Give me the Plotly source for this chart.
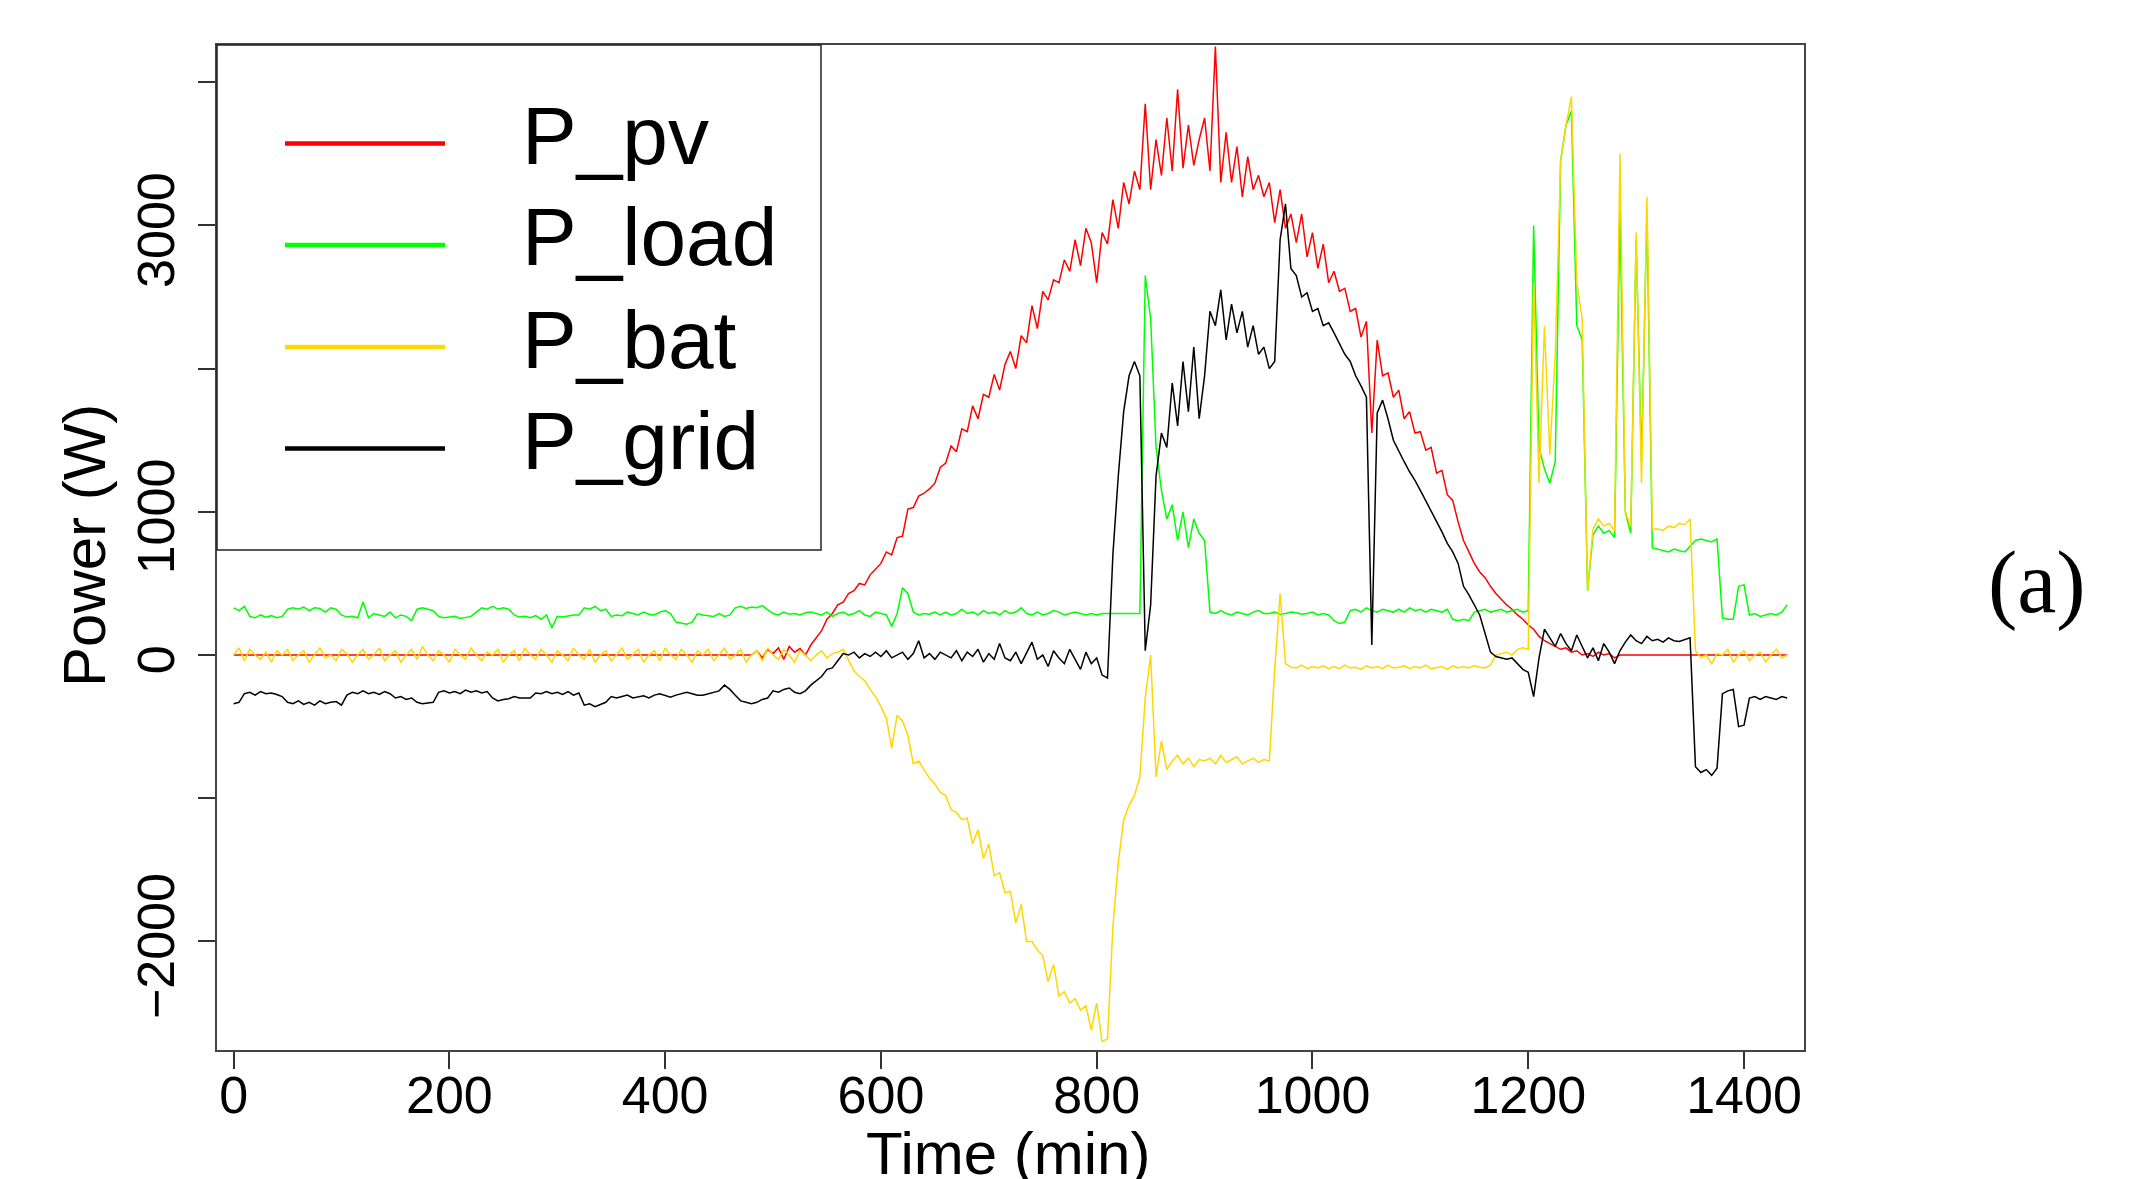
import plotly.graph_objects as go

# time axis: minutes, every 5 min
minutes = list(range(0, 1441, 5))

P_pv = [
    0, 0, 0, 0, 0, 0, 0, 0, 0, 0, 0, 0,
    0, 0, 0, 0, 0, 0, 0, 0, 0, 0, 0, 0,
    0, 0, 0, 0, 0, 0, 0, 0, 0, 0, 0, 0,
    0, 0, 0, 0, 0, 0, 0, 0, 0, 0, 0, 0,
    0, 0, 0, 0, 0, 0, 0, 0, 0, 0, 0, 0,
    0, 0, 0, 0, 0, 0, 0, 0, 0, 0, 0, 0,
    0, 0, 0, 0, 0, 0, 0, 0, 0, 0, 0, 0,
    0, 0, 0, 0, 0, 0, 0, 0, 0, 0, 0, 0,
    0, 30, -20, 40, 10, 50, -30, 60, 20, 45, 0, 70,
    120, 170, 250, 290, 350, 370, 430, 450, 500, 490, 560, 600,
    640, 720, 700, 820, 830, 1020, 1030, 1110, 1130, 1160, 1200, 1310,
    1340, 1460, 1420, 1580, 1560, 1740, 1650, 1820, 1800, 1960, 1850, 2030,
    2120, 2000, 2230, 2180, 2440, 2280, 2540, 2480, 2620, 2600, 2760, 2680,
    2900, 2720, 2980, 2880, 2600, 2950, 2870, 3180, 2980, 3300, 3150, 3380,
    3250, 3850, 3250, 3600, 3350, 3750, 3380, 3950, 3400, 3700, 3420, 3600,
    3750, 3380, 4250, 3300, 3650, 3300, 3550, 3200, 3480, 3250, 3350, 3200,
    3300, 3020, 3250, 2980, 3080, 2880, 3080, 2780, 2950, 2700, 2870, 2600,
    2680, 2540, 2560, 2400, 2420, 2220, 2330, 1550, 2200, 1950, 1970, 1800,
    1850, 1650, 1700, 1550, 1560, 1430, 1450, 1270, 1290, 1120, 1080, 930,
    800, 720, 640, 580, 540, 480, 430, 390, 350, 320, 280, 250,
    210, 180, 130, 100, 80, 60, 40, 50, 20, 30, 0, 10,
    -10, 20, 0, 10, -20, 0, 0, 0, 0, 0, 0, 0,
    0, 0, 0, 0, 0, 0, 0, 0, 0, 0, 0, 0,
    0, 0, 0, 0, 0, 0, 0, 0, 0, 0, 0, 0,
    0,
]

P_load = [
    330, 310, 340, 270, 260, 280, 265, 275, 260, 270, 320, 330,
    320, 335, 310, 330, 325, 300, 330, 320, 280, 265, 270, 260,
    370, 260, 290, 280, 270, 300, 260, 280, 270, 240, 320, 330,
    320, 310, 270, 260, 265, 270, 255, 265, 270, 300, 330, 320,
    340, 320, 330, 320, 280, 265, 270, 260, 275, 250, 280, 190,
    270, 265, 275, 280, 280, 330, 320, 340, 310, 320, 270, 280,
    275, 300, 290, 280, 300, 285, 280, 300, 310, 290, 230, 220,
    215, 230, 290, 280, 275, 270, 290, 270, 280, 330, 340, 325,
    335, 330, 345, 320, 290, 280, 300, 285, 290, 280, 295, 300,
    290, 280, 300, 270, 290, 300, 280, 290, 310, 280, 270, 300,
    290, 280, 200, 290, 470, 430, 300, 280, 290, 285, 300, 280,
    300, 280, 290, 320, 290, 300, 280, 310, 290, 300, 280, 310,
    290, 300, 330, 290, 280, 300, 280, 290, 310, 300, 280, 290,
    300, 290, 280, 290, 280, 290, 290, 285, 290, 290, 290, 290,
    290, 2650, 2350, 1450, 1150, 950, 1050, 800, 1000, 750, 950, 850,
    800, 300, 290, 310, 290, 280, 300, 290, 280, 300, 310, 290,
    290, 300, 285, 290, 300, 295, 285, 290, 300, 280, 290, 280,
    240, 220, 230, 310, 320, 300, 330, 310, 300, 320, 310, 300,
    320, 300, 330, 310, 320, 300, 320, 310, 300, 320, 250, 240,
    250, 240, 300, 310, 320, 300, 310, 320, 300, 310, 320, 300,
    310, 3000, 1450, 1300, 1200, 1350, 3450, 3700, 3800, 2300, 2200, 450,
    840, 900, 850, 870, 820, 3100, 1000, 850, 2900, 1350, 3100, 750,
    740, 730, 720, 740, 730, 720, 760, 800, 810, 800, 790, 810,
    260, 250, 250, 480, 490, 280, 290, 270, 280, 290, 280, 300,
    350,
]

P_bat = [
    0, 50, -40, 40, 0, -30, 20, -50, 30, 0, 40, -40,
    0, 30, -50, 0, 50, -20, 0, -40, 40, 10, -50, 0,
    40, -30, 0, 50, -40, 0, 30, -50, 0, 40, -30, 60,
    0, -40, 30, 0, -50, 40, 0, -30, 50, 0, -40, 20,
    0, 40, -50, 0, 30, -40, 50, 0, -30, 40, 0, -50,
    30, 0, -40, 50, 0, -30, 40, -50, 0, 30, -40, 0,
    50, -30, 0, 40, -50, 0, 30, -40, 50, 0, -30, 40,
    0, -50, 30, 0, 40, -40, 0, 50, -30, 0, 40, -50,
    0, 30, -40, 50, 0, -30, 40, 0, -50, 30, 0, -40,
    0, 30, -20, 10, 20, 40, -30, -110, -150, -180, -240, -290,
    -360, -440, -650, -420, -460, -560, -760, -740, -800, -860, -900, -960,
    -980, -1080, -1100, -1150, -1140, -1320, -1220, -1420, -1320, -1540, -1520, -1660,
    -1650, -1870, -1740, -2000, -2000, -2060, -2100, -2280, -2160, -2380, -2350, -2430,
    -2400, -2480, -2450, -2620, -2430, -2700, -2680, -1900, -1450, -1150, -1050, -980,
    -850, -300, 0, -850, -600, -800, -740, -700, -760, -720, -780, -730,
    -740, -720, -760, -700, -750, -730, -710, -760, -740, -720, -750, -730,
    -740, -100, 430, -60, -85, -90, -70, -95, -80, -90, -75, -95,
    -80, -95, -70, -90, -85, -100, -75, -90, -80, -95, -70, -90,
    -85, -75, -95, -80, -90, -70, -95, -85, -80, -100, -75, -90,
    -80, -90, -75, -85, -90, -70, 0, 10, 20, 0, 40, 50,
    40, 2600, 1200, 2300, 1400, 2100, 3450, 3700, 3900, 2600, 2350, 450,
    880, 950, 900, 920, 870, 3500, 1000, 900, 2950, 1200, 3200, 880,
    880, 870, 900, 890, 920, 910, 950, 30, -20, 0, -60, 10,
    0, 40, -50, 0, 30, -40, 0, 20, -50, 0, 40, -20,
    0,
]

P_grid = [
    -340, -330, -270, -260, -280, -255, -270, -265, -275, -290, -330, -340,
    -320, -345, -330, -350, -320, -340, -330, -325, -350, -280, -260, -270,
    -250, -270, -260, -275, -255, -270, -300, -290, -310, -300, -330, -340,
    -335, -330, -260, -250, -265, -255, -270, -245, -260, -250, -265, -255,
    -300, -320, -310, -305, -290, -300, -300, -300, -265, -270, -255, -270,
    -260, -275, -255, -280, -265, -350, -340, -360, -345, -330, -290, -300,
    -290, -280, -300, -290, -285, -300, -280, -270, -280, -295, -280, -270,
    -260, -270, -280, -280, -270, -260, -250, -210, -240, -280, -320, -330,
    -340, -330, -310, -300, -250, -260, -240, -230, -260, -270, -250, -210,
    -180, -150, -100, -90, -40, 10, 0, 20, -20, 10, -10, 20,
    -10, 30, -20, 0, 20, -30, 10, 100, -20, 10, -30, 20,
    0, -20, 30, -40, 20, -10, 40, -50, 10, -30, 80, -20,
    -40, 20, -60, 10, 90, -30, 0, -80, 30, -20, -60, 40,
    -30, -100, 20, -60, -20, -140, -160, 700, 1250, 1700, 1950, 2050,
    1950, 30, 350, 1250, 1550, 1450, 1900, 1600, 2050, 1700, 2150, 1650,
    1950, 2400, 2300, 2550, 2200, 2450, 2250, 2400, 2150, 2300, 2100, 2150,
    2000, 2050, 2900, 3150, 2700, 2650, 2500, 2530, 2400, 2420, 2300, 2320,
    2250, 2180, 2100, 2050, 1950, 1880, 1800, 70, 1690, 1780, 1650, 1500,
    1420, 1350, 1280, 1220, 1150, 1080, 1000, 930, 860, 780, 720, 640,
    480, 420, 350, 280, 150, 20, -10, -20, -30, -20, -60, -100,
    -120, -290, -20, 180, 120, 60, 150, 80, 30, 140, 60, -20,
    50, -40, 80, 20, -60, 30, 90, 140, 100, 80, 130, 100,
    110, 90, 120, 100, 95, 110, 120, -780, -820, -800, -840, -790,
    -270, -250, -240, -500, -490, -300, -290, -310, -290, -300, -310, -290,
    -300,
]

series_names = ["P_pv", "P_load", "P_bat", "P_grid"]
series_colors = ["#FF0000", "#00FF00", "#FFD700", "#000000"]
series_values = [P_pv, P_load, P_bat, P_grid]

x_ticks = [0, 200, 400, 600, 800, 1000, 1200, 1400]
y_ticks = [-2000, -1000, 0, 1000, 2000, 3000, 4000]
y_ticklabels = ["\u22122000", "", "0", "1000", "", "3000", ""]

FONT = "Liberation Sans, Arial, Helvetica, sans-serif"

fig = go.Figure()
for name, col, vals in zip(series_names, series_colors, series_values):
    fig.add_trace(go.Scatter(x=minutes, y=vals, mode="lines", name=name,
                             line=dict(color=col, width=1.5), showlegend=False))

# page offset from default body margin
OFF = 8
W, H = 2147 - OFF, 1179 - OFF
# plot area edges in page pixels
L, R, T, B = 217, 1804, 45, 1050

def px(xp):
    return (xp - L) / (R - L)

def py(yp):
    return (B - yp) / (B - T)

# trailing padding recentres the rotated labels on their ticks
PAD = "\u00a0\u2009"
y_ticktext = [t + PAD if t else t for t in y_ticklabels]

fig.update_layout(
    width=W, height=H,
    margin=dict(l=L - OFF, r=W - (R - OFF), t=T - OFF, b=H - (B - OFF), pad=0),
    paper_bgcolor="white", plot_bgcolor="white",
    hovermode=False,
    font=dict(family=FONT, color="black"),
    xaxis=dict(range=[-15.4, 1455.6], tickvals=x_ticks, ticks="outside", ticklen=17,
               tickwidth=1.5, tickcolor="#333", showline=True, linewidth=2, linecolor="#444",
               mirror=True, showgrid=False, zeroline=False, ticklabelstandoff=-18,
               tickfont=dict(family=FONT, size=52, color="black")),
    yaxis=dict(range=[-2758, 4260], tickvals=y_ticks, ticktext=y_ticktext,
               ticks="outside", ticklen=17, tickwidth=1.5, tickcolor="#333",
               showline=True, linewidth=2, linecolor="#444", mirror=True,
               showgrid=False, zeroline=False, tickangle=-90, ticklabelstandoff=3,
               tickfont=dict(family=FONT, size=52, color="black")),
)

# legend box drawn manually (R-style)
fig.add_shape(type="rect", xref="paper", yref="paper", x0=0, x1=px(821), y0=py(550), y1=1,
              line=dict(color="#222", width=1.5), fillcolor="rgba(0,0,0,0)")
leg_y = [143.5, 245, 347, 448.5]
for name, col, yy in zip(series_names, series_colors, leg_y):
    fig.add_shape(type="line", xref="paper", yref="paper", x0=px(285), x1=px(445),
                  y0=py(yy), y1=py(yy), line=dict(color=col, width=4.5))
    fig.add_annotation(xref="paper", yref="paper", x=px(520), y=py(yy - 8), text=name,
                       showarrow=False, xanchor="left", yanchor="middle",
                       font=dict(family=FONT, size=82, color="black"))

fig.add_annotation(xref="paper", yref="paper", x=px(1008), y=py(1153), text="Time (min)",
                   showarrow=False, xanchor="center", yanchor="middle",
                   font=dict(family=FONT, size=60, color="black"))
fig.add_annotation(xref="paper", yref="paper", x=px(84), y=py(546), text="Power (W)",
                   showarrow=False, xanchor="center", yanchor="middle", textangle=-90,
                   font=dict(family=FONT, size=60, color="black"))
fig.add_annotation(xref="paper", yref="paper", x=px(2037), y=py(582), text="(a)",
                   showarrow=False, xanchor="center", yanchor="middle",
                   font=dict(family="Liberation Serif, Times New Roman, serif", size=88, color="black"))

fig.write_html("out.html")
